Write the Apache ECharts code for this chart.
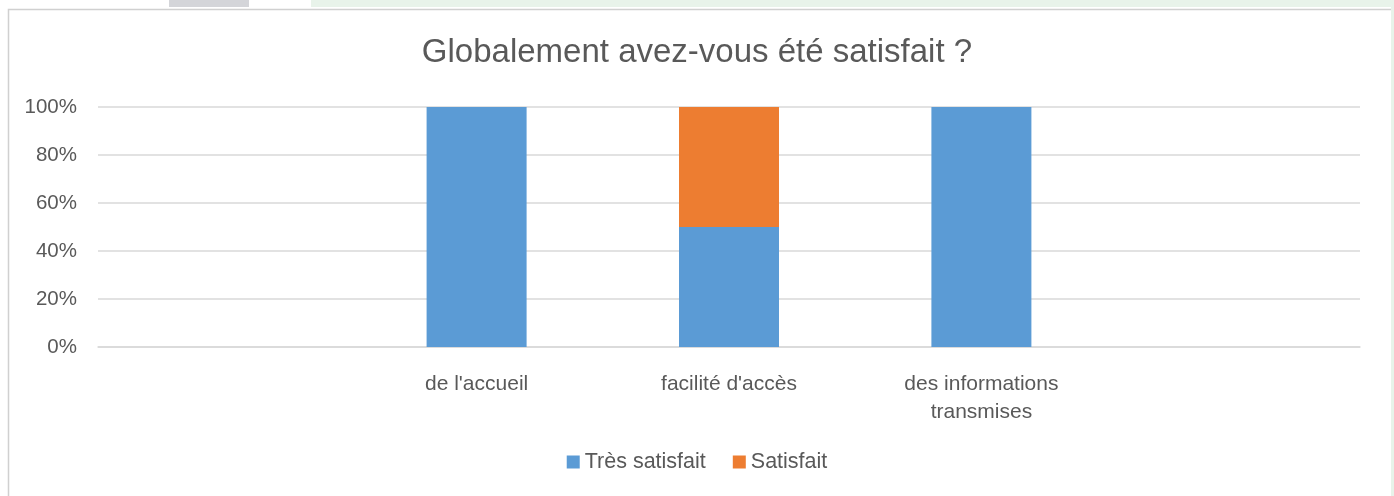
<!DOCTYPE html>
<html>
<head>
<meta charset="utf-8">
<script src="https://cdn.jsdelivr.net/npm/echarts@6/dist/echarts.min.js"></script>
<style>
  html, body { margin: 0; padding: 0; background: #fff; }
  #chart { width: 1394px; height: 496px; }
</style>
</head>
<body>
<div id="chart"></div>
<script>
// categories (first and last left empty, as in the sheet)
var categories = ['', "de l'accueil", "facilité d'accès", 'des informations\ntransmises', '']
var tresSatisfait = ['-', 100, 50, 100, '-']
var satisfait = ['-', 0, 50, 0, '-']
var seriesNames = ['Très satisfait', 'Satisfait']

var font = "'Liberation Sans', Arial, sans-serif"
var textColor = '#595959'

var chart = echarts.init(document.getElementById('chart'))
chart.setOption({
  animation: false,
  title: {
    text: 'Globalement avez-vous été satisfait ?',
    left: 'center',
    top: 31,
    textStyle: { fontFamily: font, fontSize: 33, fontWeight: 'normal', color: textColor }
  },
  legend: {
    data: seriesNames,
    top: 446,
    left: 'center',
    itemWidth: 13,
    itemHeight: 13,
    itemGap: 27,
    icon: 'rect',
    textStyle: { fontFamily: font, fontSize: 21.5, color: textColor }
  },
  grid: { left: 98, right: 34, top: 107, bottom: 149 },
  xAxis: {
    type: 'category',
    data: categories,
    axisLine: { lineStyle: { color: '#d9d9d9', width: 1.5 } },
    axisTick: { show: false },
    axisLabel: { fontFamily: font, fontSize: 21, color: textColor, margin: 23, lineHeight: 28, interval: 0 }
  },
  yAxis: {
    type: 'value',
    min: 0,
    max: 100,
    interval: 20,
    axisLine: { show: false },
    axisTick: { show: false },
    axisLabel: { formatter: '{value}%', fontFamily: font, fontSize: 20.5, color: textColor, margin: 21 },
    splitLine: { lineStyle: { color: '#d9d9d9', width: 1.5 } }
  },
  series: [
    {
      name: seriesNames[0],
      type: 'bar',
      stack: 'total',
      barWidth: 100,
      itemStyle: { color: '#5b9bd5' },
      data: tresSatisfait
    },
    {
      name: seriesNames[1],
      type: 'bar',
      stack: 'total',
      barWidth: 100,
      itemStyle: { color: '#ed7d31' },
      data: satisfait
    }
  ],
  graphic: [
    // spreadsheet bits around the chart frame
    { type: 'rect', left: 169, top: 0, shape: { width: 80, height: 7 }, style: { fill: '#d4d5d9' }, silent: true },
    { type: 'rect', left: 311, top: 0, shape: { width: 1083, height: 7 }, style: { fill: '#e8f3ea' }, silent: true },
    { type: 'rect', left: 1391, top: 0, shape: { width: 3, height: 496 }, style: { fill: '#e8f3ea' }, silent: true },
    { type: 'rect', left: 6, top: 7, shape: { width: 1384, height: 500 }, style: { fill: 'none', stroke: '#d0d0d0', lineWidth: 1.5 }, silent: true, z: -1 }
  ]
})
</script>
</body>
</html>
